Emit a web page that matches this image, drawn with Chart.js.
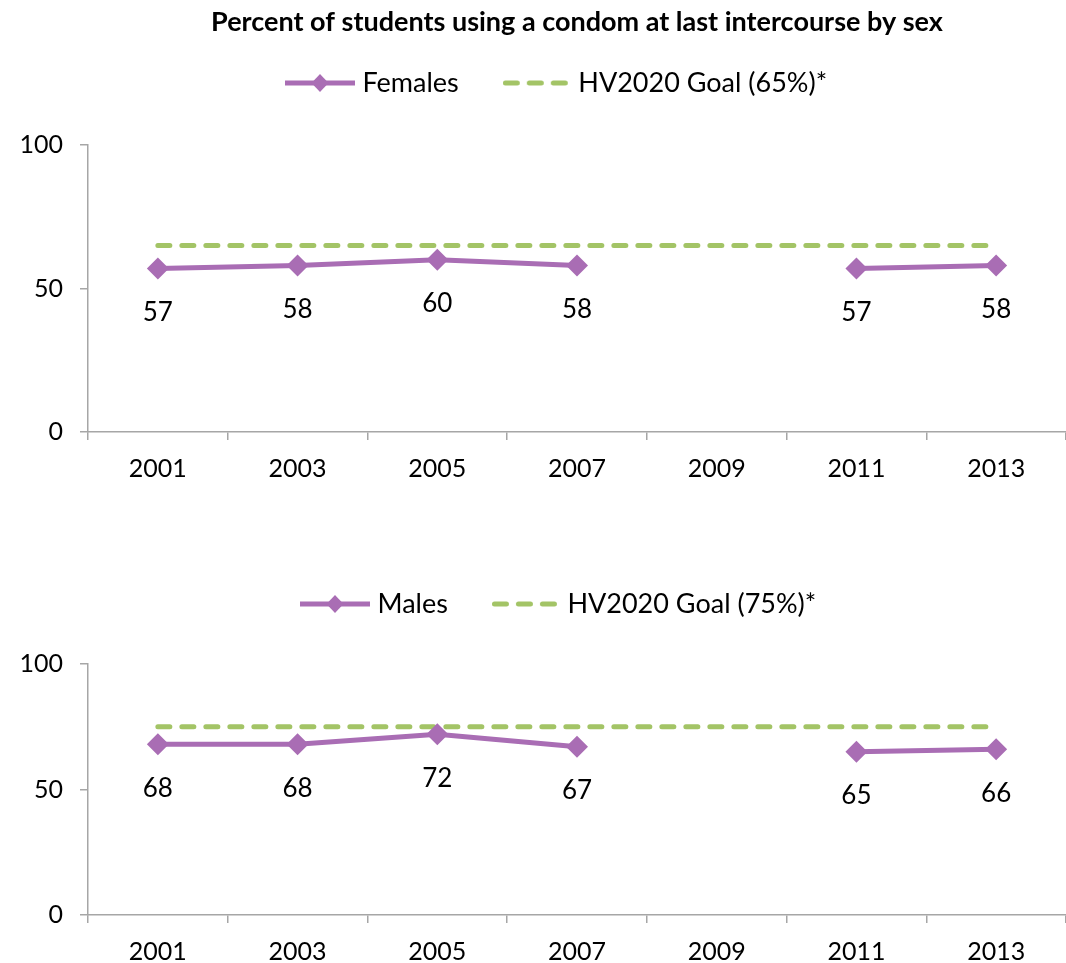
<!DOCTYPE html>
<html>
<head>
<meta charset="utf-8">
<script src="https://cdn.jsdelivr.net/npm/chart.js@4"></script>
<style>
  html, body { margin: 0; padding: 0; background: #fff; }
  #c1 { position: absolute; left: 0; top: 0; }
  #c2 { position: absolute; left: 0; top: 480px; }
</style>
</head>
<body>
<canvas id="c1" width="1066" height="480"></canvas>
<canvas id="c2" width="1066" height="483"></canvas>
<script>
// ---- data ----
const years = ['2001', '2003', '2005', '2007', '2009', '2011', '2013'];
const females = [57, 58, 60, 58, null, 57, 58];
const femaleGoal = [65, 65, 65, 65, 65, 65, 65];
const males = [68, 68, 72, 67, null, 65, 66];
const maleGoal = [75, 75, 75, 75, 75, 75, 75];
const yTicks = [0, 50, 100];
const titleText = 'Percent of students using a condom at last intercourse by sex';
const femaleLabel = 'Females';
const femaleGoalLabel = 'HV2020 Goal (65%)*';
const maleLabel = 'Males';
const maleGoalLabel = 'HV2020 Goal (75%)*';

// ---- styles ----
const PURPLE = '#A96DB4';
const GREEN = '#A3C466';
const AXIS = '#A6A6A6';
const FONT = 'Lato, "Open Sans", sans-serif';
const LEGEND_FONT = 27;

function seriesIcon() {
  const c = document.createElement('canvas');
  c.width = 70; c.height = 24;
  const x = c.getContext('2d');
  x.strokeStyle = PURPLE; x.lineWidth = 5;
  x.beginPath(); x.moveTo(0, 12); x.lineTo(70, 12); x.stroke();
  x.fillStyle = PURPLE;
  x.beginPath(); x.moveTo(35, 3); x.lineTo(43.5, 12); x.lineTo(35, 21); x.lineTo(26.5, 12); x.closePath(); x.fill();
  return c;
}
function goalIcon() {
  const c = document.createElement('canvas');
  c.width = 66; c.height = 24;
  const x = c.getContext('2d');
  x.strokeStyle = GREEN; x.lineWidth = 5; x.lineCap = 'round';
  x.setLineDash([12, 12]);
  x.beginPath(); x.moveTo(2.5, 12); x.lineTo(64, 12); x.stroke();
  return c;
}

const valueLabels = {
  id: 'valueLabels',
  afterDatasetsDraw(chart) {
    const ctx = chart.ctx;
    const meta = chart.getDatasetMeta(0);
    const data = chart.data.datasets[0].data;
    ctx.save();
    ctx.font = '26px ' + FONT;
    ctx.fillStyle = '#000';
    ctx.textAlign = 'center';
    ctx.textBaseline = 'middle';
    meta.data.forEach((el, i) => {
      if (data[i] === null || data[i] === undefined) return;
      ctx.fillText(String(data[i]), el.x, el.y + 44);
    });
    ctx.restore();
  }
};

function makeChart(id, series, goal, label, goalLabel, withTitle, legendX, legendY) {
  const legendPad = 48;
  const legendShift = {
    id: 'legendShift',
    afterLayout(chart) {
      const lg = chart.legend;
      if (!lg || !lg.lineWidths) return;
      const startX = (lg.left + legendPad + lg.right - lg.lineWidths[0]) / 2;
      const dx = legendX - startX;
      const curY = lg.top + legendPad + LEGEND_FONT / 2;
      const dy = legendY - curY;
      lg.left += dx; lg.right += dx;
      lg.top += dy; lg.bottom += dy;
    }
  };
  const ctx = document.getElementById(id);
  return new Chart(ctx, {
    type: 'line',
    data: {
      labels: years,
      datasets: [
        {
          label: label,
          data: series,
          borderColor: PURPLE,
          backgroundColor: PURPLE,
          borderWidth: 5,
          pointStyle: 'rectRot',
          pointRadius: 11,
          pointHoverRadius: 11,
          pointBorderWidth: 0,
          spanGaps: false,
          tension: 0
        },
        {
          label: goalLabel,
          data: goal,
          borderColor: GREEN,
          backgroundColor: GREEN,
          borderWidth: 5,
          borderDash: [12, 12],
          borderCapStyle: 'round',
          pointRadius: 0,
          pointHoverRadius: 0,
          tension: 0
        }
      ]
    },
    options: {
      responsive: false,
      animation: false,
      events: [],
      layout: { autoPadding: false, padding: { top: withTitle ? 0 : 99, left: 0, right: 0, bottom: 0 } },
      plugins: {
        title: {
          display: withTitle,
          text: titleText,
          fullSize: false,
          color: '#000',
          font: { family: FONT, size: 27, weight: 'bold', lineHeight: 1.2 },
          padding: { top: 5.8, bottom: 21.8 }
        },
        legend: {
          display: true,
          position: 'top',
          labels: {
            usePointStyle: true,
            pointStyleWidth: 58,
            padding: legendPad,
            color: '#000',
            font: { family: FONT, size: LEGEND_FONT },
            generateLabels(chart) {
              return [
                { text: label, pointStyle: seriesIcon(), fillStyle: PURPLE, strokeStyle: PURPLE, lineWidth: 0, hidden: false, datasetIndex: 0, fontColor: '#000' },
                { text: goalLabel, pointStyle: goalIcon(), fillStyle: GREEN, strokeStyle: GREEN, lineWidth: 0, hidden: false, datasetIndex: 1, fontColor: '#000' }
              ];
            }
          }
        },
        tooltip: { enabled: false }
      },
      scales: {
        x: {
          type: 'category',
          offset: true,
          grid: { display: true, offset: true, drawOnChartArea: false, drawTicks: true, tickLength: 8, color: AXIS, lineWidth: 1.5 },
          border: { display: true, color: AXIS, width: 1.5 },
          ticks: { color: '#000', font: { family: FONT, size: 25 }, padding: 14, maxRotation: 0, autoSkip: false },
          afterFit(scale) { scale.height = 48; scale.paddingLeft = 0; scale.paddingRight = 0; }
        },
        y: {
          min: 0,
          max: 100,
          afterBuildTicks(scale) { scale.ticks = yTicks.map(v => ({ value: v })); },
          grid: { display: true, drawOnChartArea: false, drawTicks: true, tickLength: 8, color: AXIS, lineWidth: 1.5 },
          border: { display: true, color: AXIS, width: 1.5 },
          ticks: { color: '#000', font: { family: FONT, size: 25 }, padding: 17 },
          afterFit(scale) { scale.width = 88; }
        }
      }
    },
    plugins: [valueLabels, legendShift]
  });
}

makeChart('c1', females, femaleGoal, femaleLabel, femaleGoalLabel, true, 291, 83);
makeChart('c2', males, maleGoal, maleLabel, maleGoalLabel, false, 306, 124);
</script>
</body>
</html>
